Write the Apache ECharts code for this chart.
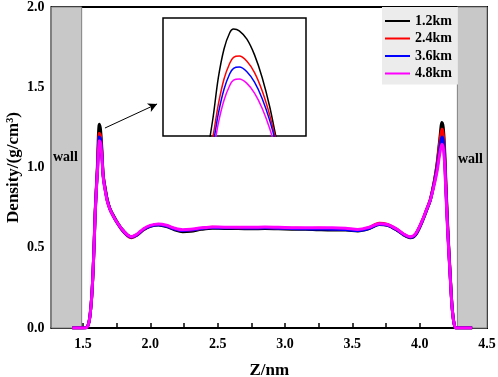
<!DOCTYPE html>
<html>
<head>
<meta charset="utf-8">
<script src="https://cdn.jsdelivr.net/npm/echarts@6/dist/echarts.min.js"></script>
<style>
  html, body { margin: 0; padding: 0; background: #fff; }
  #chart { width: 498px; height: 377px; }
</style>
</head>
<body>
<div id="chart"></div>
<script>
// Z positions (nm), shared by every curve
const zValues = [1.42, 1.50, 1.53, 1.545, 1.555, 1.565, 1.575, 1.583, 1.59, 1.60,
  1.605, 1.61, 1.613, 1.616, 1.619, 1.621, 1.624, 1.628, 1.632, 1.636,
  1.64, 1.644, 1.648, 1.655, 1.665, 1.68, 1.70, 1.72, 1.75, 1.79,
  1.83, 1.86, 1.90, 1.95, 2.00, 2.06, 2.12, 2.18, 2.24, 2.30,
  2.38, 2.46, 2.55, 2.65, 2.75, 2.85, 2.95, 3.05, 3.15, 3.25,
  3.35, 3.45, 3.54, 3.62, 3.70, 3.76, 3.83, 3.88, 3.93, 3.97,
  4.02, 4.05, 4.08, 4.11, 4.13, 4.15, 4.165, 4.175, 4.185, 4.195,
  4.21, 4.225, 4.24, 4.255, 4.27, 4.39]

// density (g/cm3) for each depth
const density12 = [0, 0, 0.005, 0.04, 0.10, 0.20, 0.36, 0.54, 0.72, 0.89,
  0.97, 1.083, 1.17, 1.229, 1.262, 1.2695, 1.266, 1.249, 1.217, 1.171,
  1.111, 1.036, 0.97, 0.92, 0.87, 0.80, 0.745, 0.71, 0.665, 0.615,
  0.58, 0.568, 0.58, 0.612, 0.633, 0.642, 0.632, 0.612, 0.600, 0.603,
  0.615, 0.622, 0.620, 0.620, 0.618, 0.620, 0.618, 0.616, 0.615, 0.612,
  0.610, 0.610, 0.605, 0.618, 0.645, 0.64, 0.61, 0.58, 0.562, 0.58,
  0.665, 0.73, 0.80, 0.92, 1.03, 1.18, 1.28, 1.25, 1.12, 0.90,
  0.60, 0.36, 0.14, 0.03, 0, 0]
const density24 = [0, 0, 0.005, 0.04, 0.10, 0.20, 0.36, 0.535, 0.71, 0.885,
  0.96, 1.047, 1.116, 1.168, 1.200, 1.212, 1.2146, 1.204, 1.181, 1.144,
  1.094, 1.032, 0.968, 0.915, 0.865, 0.795, 0.74, 0.705, 0.66, 0.61,
  0.575, 0.563, 0.578, 0.614, 0.636, 0.645, 0.636, 0.618, 0.607, 0.610,
  0.620, 0.628, 0.626, 0.625, 0.624, 0.626, 0.622, 0.622, 0.620, 0.621,
  0.619, 0.617, 0.610, 0.625, 0.652, 0.645, 0.615, 0.585, 0.566, 0.585,
  0.67, 0.735, 0.805, 0.92, 1.02, 1.16, 1.24, 1.21, 1.09, 0.88,
  0.59, 0.355, 0.14, 0.03, 0, 0]
const density36 = [0, 0, 0.005, 0.04, 0.10, 0.20, 0.36, 0.53, 0.70, 0.88,
  0.955, 1.030, 1.097, 1.147, 1.1785, 1.1896, 1.1923, 1.1828, 1.1615, 1.1283,
  1.0833, 1.0266, 0.965, 0.91, 0.86, 0.795, 0.74, 0.705, 0.66, 0.612,
  0.577, 0.566, 0.58, 0.615, 0.635, 0.643, 0.635, 0.617, 0.607, 0.610,
  0.620, 0.626, 0.624, 0.624, 0.623, 0.624, 0.622, 0.620, 0.618, 0.617,
  0.615, 0.613, 0.607, 0.620, 0.647, 0.642, 0.613, 0.583, 0.565, 0.584,
  0.668, 0.733, 0.80, 0.91, 1.00, 1.12, 1.19, 1.165, 1.06, 0.86,
  0.58, 0.35, 0.14, 0.03, 0, 0]
const density48 = [0, 0, 0.005, 0.04, 0.10, 0.20, 0.36, 0.53, 0.70, 0.875,
  0.945, 1.0134, 1.0777, 1.1247, 1.1548, 1.1654, 1.1679, 1.1591, 1.1393, 1.1085,
  1.0666, 1.0139, 0.96, 0.905, 0.855, 0.79, 0.74, 0.705, 0.662, 0.615,
  0.58, 0.569, 0.584, 0.619, 0.639, 0.648, 0.64, 0.622, 0.612, 0.615,
  0.624, 0.630, 0.628, 0.628, 0.627, 0.629, 0.627, 0.625, 0.624, 0.624,
  0.624, 0.622, 0.614, 0.626, 0.650, 0.645, 0.616, 0.586, 0.568, 0.588,
  0.67, 0.735, 0.80, 0.90, 0.98, 1.09, 1.145, 1.125, 1.03, 0.84,
  0.57, 0.345, 0.135, 0.03, 0, 0]

const seriesNames = ['1.2km', '2.4km', '3.6km', '4.8km']
const seriesColors = ['#000000', '#ff0000', '#0000ff', '#ff00ff']
const seriesData = [density12, density24, density36, density48]

const xTickValues = [1.5, 2.0, 2.5, 3.0, 3.5, 4.0, 4.5]
const xMinorTicks = [1.75, 2.25, 2.75, 3.25, 3.75, 4.25]
const wallLeft = [1.266, 1.49]
const wallRight = [4.28, 4.5]
// zoomed window of the inset
const insetX = [1.584, 1.659]
const insetY = [1.052, 1.292]
const arrowFrom = [1.663, 1.246]
const arrowTo = [2.05, 1.396]

const serif = '"Liberation Serif", "Times New Roman", serif'
const chart = echarts.init(document.getElementById('chart'))

const pairs = (ys) => zValues.map((z, i) => [z, ys[i]])

const series = [{
  type: 'line',
  data: [],
  xAxisIndex: 0,
  yAxisIndex: 0,
  z: 1,
  silent: true,
  markArea: {
    silent: true,
    itemStyle: {color: '#c8c8c8', borderColor: '#808080', borderWidth: 1},
    data: [
      [{xAxis: wallLeft[0]}, {xAxis: wallLeft[1]}],
      [{xAxis: wallRight[0]}, {xAxis: wallRight[1]}]
    ]
  },
  markLine: {
    silent: true,
    symbol: ['none', 'arrow'],
    symbolSize: [7, 9],
    label: {show: false},
    lineStyle: {color: '#000', width: 1, type: 'solid'},
    data: [[{coord: arrowFrom}, {coord: arrowTo}]]
  }
}]

seriesNames.forEach((name, i) => {
  // main plot
  series.push({
    name: name,
    type: 'line',
    xAxisIndex: 0,
    yAxisIndex: 0,
    z: 2 + i,
    data: pairs(seriesData[i]),
    symbol: 'none',
    smooth: 0.3,
    lineStyle: {color: seriesColors[i], width: 3},
    itemStyle: {color: seriesColors[i]}
  })
  // inset
  series.push({
    name: name,
    type: 'line',
    xAxisIndex: 1,
    yAxisIndex: 1,
    z: 10 + i,
    data: pairs(seriesData[i]),
    symbol: 'none',
    smooth: 0.3,
    lineStyle: {color: seriesColors[i], width: 1.5},
    itemStyle: {color: seriesColors[i]}
  })
})

const option = {
  animation: false,
  grid: [
    {left: 51.5, right: 11, top: 7, bottom: 49, show: true, borderColor: '#000', borderWidth: 2,
      outerBoundsMode: 'none', containLabel: false},
    {left: 163, top: 18, width: 143, height: 118, show: true, borderColor: '#000', borderWidth: 1.5,
      backgroundColor: '#fff', z: 5, outerBoundsMode: 'none', containLabel: false}
  ],
  legend: {
    data: seriesNames,
    orient: 'vertical',
    left: 382,
    top: 7,
    padding: [7, 6, 4, 3],
    backgroundColor: '#ececec',
    icon: 'rect',
    itemWidth: 25,
    itemHeight: 2,
    itemGap: 3.5,
    textStyle: {fontFamily: serif, fontWeight: 'bold', fontSize: 14, lineHeight: 14, color: '#000'}
  },
  xAxis: [{
    type: 'value',
    gridIndex: 0,
    min: wallLeft[0],
    max: 4.5,
    name: 'Z/nm',
    nameLocation: 'middle',
    nameGap: 34,
    nameMoveOverlap: false,
    nameTextStyle: {fontFamily: serif, fontWeight: 'bold', fontSize: 17, color: '#000'},
    axisLine: {lineStyle: {color: '#000', width: 2}},
    axisTick: {inside: true, length: 5, customValues: xTickValues.concat(xMinorTicks),
      lineStyle: {color: '#000', width: 1.5}},
    axisLabel: {customValues: xTickValues, formatter: v => v.toFixed(1), margin: 9,
      fontFamily: serif, fontWeight: 'bold', fontSize: 14, color: '#000'},
    splitLine: {show: false}
  }, {
    type: 'value',
    gridIndex: 1,
    min: insetX[0],
    max: insetX[1],
    show: false,
    splitLine: {show: false}
  }],
  yAxis: [{
    type: 'value',
    gridIndex: 0,
    min: 0,
    max: 2,
    interval: 0.5,
    name: 'Density/(g/cm³)',
    nameLocation: 'middle',
    nameGap: 29,
    nameMoveOverlap: false,
    nameTextStyle: {fontFamily: serif, fontWeight: 'bold', fontSize: 17, color: '#000'},
    axisLine: {show: true, lineStyle: {color: '#000', width: 2}},
    axisTick: {show: true, inside: true, length: 5, lineStyle: {color: '#000', width: 1.5}},
    minorTick: {show: true, splitNumber: 2, length: 5, lineStyle: {color: '#000', width: 1.5}},
    axisLabel: {formatter: v => v.toFixed(1), margin: 7,
      fontFamily: serif, fontWeight: 'bold', fontSize: 14, color: '#000'},
    splitLine: {show: false}
  }, {
    type: 'value',
    gridIndex: 1,
    min: insetY[0],
    max: insetY[1],
    show: false,
    splitLine: {show: false}
  }],
  graphic: [
    {type: 'text', left: 53, top: 150, z: 20,
      style: {text: 'wall', font: 'bold 14px ' + serif, fill: '#000'}},
    {type: 'text', left: 458, top: 152, z: 20,
      style: {text: 'wall', font: 'bold 14px ' + serif, fill: '#000'}}
  ],
  series: series
}

chart.setOption(option)
</script>
</body>
</html>
